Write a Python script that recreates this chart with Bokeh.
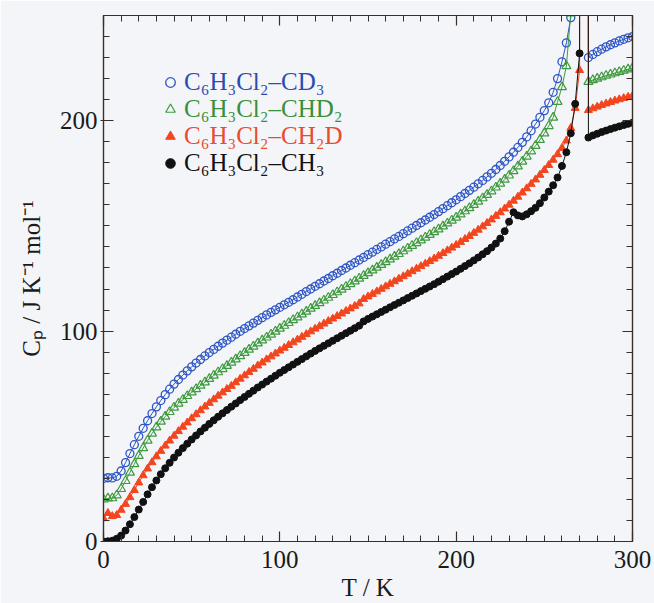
from bokeh.plotting import figure
from bokeh.models import (LinearAxis, SingleIntervalTicker, Range1d,
                          Legend, LegendItem, ColumnDataSource)
from bokeh.core.properties import value
from bokeh.embed import file_html
from bokeh.resources import INLINE

# ---------------- data ----------------
T_K = [0, 2.5, 5, 7.5, 10, 12.5, 15, 17.5, 20, 22.5,
       25, 27.5, 30, 32.5, 35, 37.5, 40, 42.5, 45, 47.5,
       50, 52.5, 55, 57.5, 60, 62.5, 65, 67.5, 70, 72.5,
       75, 77.5, 80, 82.5, 85, 87.5, 90, 92.5, 95, 97.5,
       100, 102.5, 105, 107.5, 110, 112.5, 115, 117.5, 120, 122.5,
       125, 127.5, 130, 132.5, 135, 137.5, 140, 142.5, 145, 147.5,
       150, 152.5, 155, 157.5, 160, 162.5, 165, 167.5, 170, 172.5,
       175, 177.5, 180, 182.5, 185, 187.5, 190, 192.5, 195, 197.5,
       200, 202.5, 205, 207.5, 210, 212.5, 215, 217.5, 220, 222.5,
       225, 227.5, 230, 232.5, 235, 237.5, 240, 242.5, 245, 247.5,
       250, 252.5, 255, 257.5, 260, 262.5, 265, 267.5,
       270, 273,
       275, 277.5, 280, 282.5, 285, 287.5, 290, 292.5, 295, 297.5, 300]

cp_CD3 = [30.0, 30.3, 30.2, 31.0, 33.5, 37.5, 41.8, 46.0, 50.0, 53.8,
          57.4, 60.8, 64.0, 67.0, 69.8, 72.4, 74.8, 77.0, 79.1, 81.1,
          83.0, 84.8, 86.5, 88.2, 89.8, 91.3, 92.8, 94.3, 95.7, 97.1,
          98.5, 99.9, 101.2, 102.5, 103.8, 105.1, 106.4, 107.7, 108.9, 110.1,
          111.3, 112.5, 113.7, 114.9, 116.2, 117.5, 118.8, 120.0, 121.3, 122.5,
          123.8, 125.0, 126.3, 127.5, 128.8, 130.0, 131.3, 132.5, 133.8, 135.0,
          136.3, 137.5, 138.8, 140.0, 141.3, 142.5, 143.8, 145.0, 146.3, 147.6,
          148.9, 150.2, 151.5, 152.8, 154.1, 155.4, 156.8, 158.2, 159.6, 161.0,
          162.4, 163.9, 165.4, 166.9, 168.4, 170.0, 171.6, 173.3, 175.0, 176.8,
          178.7, 180.7, 182.8, 185.0, 187.3, 189.7, 192.3, 195.2, 198.4, 201.6,
          204.8, 208.5, 213.5, 220.0, 228.0, 237.0, 249.0, 280.0,
          350.0, 3000.0,
          230.0, 231.5, 232.8, 234.0, 235.1, 236.1, 237.0, 237.9, 238.7, 239.4, 240.0]

cp_CHD2 = [20.0, 20.5, 20.6, 22.0, 25.0, 28.8, 32.8, 36.8, 40.7, 44.4,
           48.0, 51.3, 54.3, 57.0, 59.4, 61.6, 63.7, 65.6, 67.4, 69.2,
           70.9, 72.5, 74.1, 75.7, 77.3, 78.9, 80.5, 82.0, 83.5, 85.1,
           86.6, 88.2, 89.7, 91.2, 92.7, 94.2, 95.6, 97.0, 98.4, 99.8,
           101.2, 102.6, 103.9, 105.3, 106.6, 108.0, 109.3, 110.7, 112.0, 113.3,
           114.6, 115.9, 117.2, 118.5, 119.8, 121.1, 122.4, 123.7, 125.0, 126.3,
           127.6, 128.9, 130.2, 131.5, 132.8, 134.1, 135.4, 136.7, 138.0, 139.3,
           140.6, 141.9, 143.2, 144.5, 145.8, 147.1, 148.4, 149.8, 151.2, 152.6,
           154.0, 155.5, 157.0, 158.5, 160.0, 161.6, 163.2, 164.8, 166.5, 168.3,
           170.1, 172.0, 174.0, 176.1, 178.3, 180.6, 183.0, 185.5, 188.1, 190.9,
           194.0, 197.5, 201.5, 209.0, 216.0, 226.0, 251.0, 300.0,
           400.0, 3000.0,
           218.5, 219.3, 220.0, 220.7, 221.4, 222.0, 222.6, 223.2, 223.8, 224.4, 225.0]

cp_CH2D = [11.0, 13.5, 12.0, 12.5, 15.0, 17.8, 21.0, 24.4, 28.0, 31.4,
           34.6, 37.6, 40.4, 43.0, 45.5, 47.9, 50.2, 52.4, 54.5, 56.5,
           58.5, 60.4, 62.3, 64.1, 65.8, 67.5, 69.2, 70.8, 72.4, 73.9,
           75.6, 77.3, 78.9, 80.5, 82.0, 83.6, 85.0, 86.5, 87.9, 89.3,
           90.7, 92.0, 93.3, 94.6, 95.9, 97.2, 98.5, 99.8, 101.1, 102.3,
           103.5, 104.7, 105.9, 107.1, 108.3, 109.5, 110.7, 111.9, 113.1, 115.2,
           116.4, 117.6, 118.8, 120.0, 121.2, 122.4, 123.6, 124.8, 126.0, 127.2,
           128.4, 129.6, 130.8, 132.0, 133.2, 134.4, 135.7, 137.0, 138.3, 139.6,
           140.9, 142.3, 143.7, 145.1, 146.6, 148.1, 149.7, 151.3, 153.0, 154.7,
           156.4, 158.2, 160.0, 161.9, 163.8, 165.8, 167.8, 169.9, 172.0, 174.2,
           176.5, 178.9, 181.4, 184.0, 187.0, 190.5, 196.5, 206.0,
           224.0, 3000.0,
           205.0, 205.8, 206.6, 207.4, 208.1, 208.8, 209.5, 210.1, 210.7, 211.3, 211.8]

cp_CH3 = [0.0, 0.1, 0.4, 1.3, 2.8, 5.2, 8.2, 11.6, 15.2, 18.8,
          22.4, 25.8, 29.0, 32.0, 34.8, 37.4, 39.9, 42.2, 44.4, 46.5,
          48.5, 50.4, 52.3, 54.1, 55.9, 57.6, 59.3, 60.9, 62.5, 64.1,
          65.6, 67.2, 68.7, 70.2, 71.7, 73.2, 74.6, 76.0, 77.4, 78.8,
          80.2, 81.5, 82.8, 84.1, 85.4, 86.7, 88.0, 89.3, 90.6, 91.8,
          93.0, 94.2, 95.4, 96.6, 97.8, 99.0, 100.2, 101.4, 102.6, 104.6,
          105.8, 106.9, 108.0, 109.1, 110.2, 111.3, 112.4, 113.5, 114.6, 115.7,
          116.8, 117.9, 119.0, 120.1, 121.2, 122.3, 123.5, 124.7, 125.9, 127.1,
          128.3, 129.6, 130.9, 132.2, 133.6, 135.0, 136.5, 138.0, 139.7, 141.6,
          144.0, 147.5, 152.0, 156.5, 155.0, 154.5, 155.5, 157.0, 158.6, 160.8,
          163.5, 166.3, 169.3, 173.0, 178.5, 185.0, 194.0, 208.0,
          232.0, 3000.0,
          192.0, 193.0, 193.8, 194.6, 195.3, 196.0, 196.7, 197.3, 197.9, 198.5, 199.0]

series_labels = ["C\u2086H\u2083Cl\u2082\u2013CD\u2083",
                 "C\u2086H\u2083Cl\u2082\u2013CHD\u2082",
                 "C\u2086H\u2083Cl\u2082\u2013CH\u2082D",
                 "C\u2086H\u2083Cl\u2082\u2013CH\u2083"]

x_title = "T / K"
y_title = "C\u209a / J K\u207b\u00b9 mol\u207b\u00b9"
x_limits = [0, 300]
y_limits = [0, 250]

# ---------------- styling ----------------
FONT = "Liberation Serif"
AXIS_COLOR = "#3a2e2a"
TEXT_COLOR = "#1a1a1a"
BG = "#f3f5f8"

p = figure(width=654, height=603,
           x_range=Range1d(*x_limits), y_range=Range1d(*y_limits),
           output_backend="svg", toolbar_location=None,
           min_border_left=103, min_border_right=22,
           min_border_top=15, min_border_bottom=62,
           background_fill_color=BG, border_fill_color=BG)
p.grid.visible = False
p.outline_line_color = AXIS_COLOR
p.outline_line_width = 1.2

xticker = SingleIntervalTicker(interval=100, num_minor_ticks=10)
yticker = SingleIntervalTicker(interval=100, num_minor_ticks=10)
p.xaxis.ticker = xticker
p.yaxis.ticker = yticker

p.add_layout(LinearAxis(ticker=xticker), "above")
p.add_layout(LinearAxis(ticker=yticker), "right")

for ax in p.axis:
    ax.axis_line_color = AXIS_COLOR
    ax.axis_line_width = 1.2
    ax.major_tick_line_color = AXIS_COLOR
    ax.minor_tick_line_color = AXIS_COLOR
    ax.major_tick_line_width = 1.2
    ax.minor_tick_line_width = 1.0
    ax.major_tick_in = 10
    ax.major_tick_out = 0
    ax.minor_tick_in = 6
    ax.minor_tick_out = 0
    ax.major_label_text_font = FONT
    ax.major_label_text_font_size = "25px"
    ax.major_label_text_color = TEXT_COLOR

for ax in p.above + p.right:
    ax.major_label_text_font_size = "1px"
    ax.major_label_text_color = None
    ax.major_label_text_alpha = 0
    ax.major_label_standoff = 0

xax = p.below[0]
yax = p.left[0]
yax.major_tick_out = 3
yax.major_label_standoff = 3
xax.major_label_standoff = 9

xax.axis_label = x_title
yax.axis_label = y_title
for ax in (xax, yax):
    ax.axis_label_text_font = FONT
    ax.axis_label_text_font_size = "25px"
    ax.axis_label_text_font_style = "normal"
    ax.axis_label_text_color = TEXT_COLOR
xax.axis_label_standoff = 3
yax.axis_label_standoff = 12

# ---------------- series ----------------
colors = ["#2d55c6", "#3e9a3e", "#f2461e", "#111111"]
text_colors = ["#2a4cb2", "#3a8f3a", "#ea4b2f", "#111111"]
series = [cp_CD3, cp_CHD2, cp_CH2D, cp_CH3]
scatters = []

for i, ys in enumerate(series):
    src = ColumnDataSource(dict(T=T_K, cp=ys))
    p.line("T", "cp", source=src, line_color=colors[i], line_width=1.0)
    if i == 0:
        r = p.scatter("T", "cp", source=src, marker="circle", size=8,
                      fill_color=None, line_color=colors[i], line_width=1.3)
    elif i == 1:
        r = p.scatter("T", "cp", source=src, marker="triangle", size=9,
                      fill_color=None, line_color=colors[i], line_width=1.2)
    elif i == 2:
        r = p.scatter("T", "cp", source=src, marker="triangle", size=8,
                      fill_color=colors[i], line_color=colors[i], line_width=1.0)
    else:
        r = p.scatter("T", "cp", source=src, marker="circle", size=7,
                      fill_color=colors[i], line_color=colors[i], line_width=1.0)
    scatters.append(r)

# ---------------- legend (one per entry, coloured text) ----------------
legend_bottoms = [445, 418, 391, 364]
for i, r in enumerate(scatters):
    lg = Legend(items=[LegendItem(label=value(series_labels[i]), renderers=[r])],
                location=(55, legend_bottoms[i]),
                padding=0, margin=0, spacing=0,
                glyph_width=24, glyph_height=28, label_height=28,
                label_standoff=2,
                label_text_font=FONT, label_text_font_size="25px",
                label_text_color=text_colors[i],
                border_line_color=None, background_fill_alpha=0)
    p.add_layout(lg)

open("out.html", "w").write(file_html(p, INLINE))
